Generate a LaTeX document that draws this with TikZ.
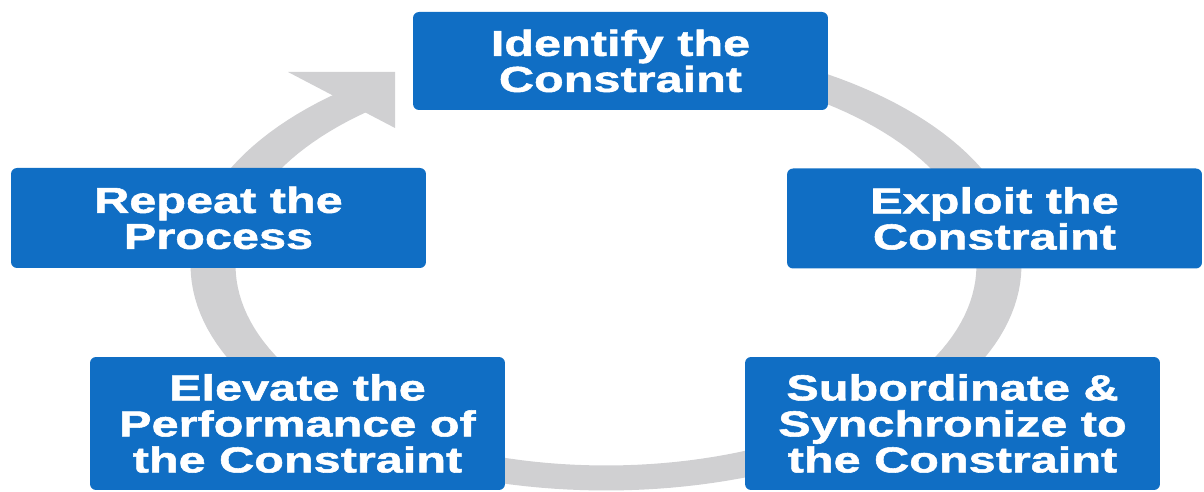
\documentclass[tikz,border=0pt]{standalone}
\usepackage{fontspec}
\newfontfamily\phasefont[FakeStretch=1.35,FakeBold=1.5]{Liberation Sans Bold}

\definecolor{phaseblue}{RGB}{16,110,196}
\definecolor{ringgray}{RGB}{208,208,210}

\tikzset{
  phase/.style={fill=phaseblue, rounded corners=0.12cm, minimum width=8.3cm,
    inner sep=0pt, text=white, align=center,
    font=\phasefont\fontsize{20.5pt}{20.5pt}\selectfont}
}

\begin{document}
\begin{tikzpicture}[x=0.02cm, y=0.02cm]
        \useasboundingbox (0,0) rectangle (1204,492);

        % Draw the ring
        \fill[ringgray, samples=160, variable=\t]
        plot[domain=90:-230] ({606+415.5*cos(\t)}, {227+225.5*sin(\t)})
        -- plot[domain=-230:90] ({606+370.5*cos(\t)}, {227+200.5*sin(\t)})
        -- cycle;

        % Draw the arrow head
        \coordinate (tip) at (395,420);
        \fill[ringgray] (288,420) -- (tip) -- (395,364) -- cycle;

        % Add the steps
        \node[phase, minimum height=1.96cm] (identify) at (620.5,431) {Identify the\\Constraint};
        \node[phase, minimum height=2cm] (exploit) at (994.5,273.5) {Exploit the\\Constraint};
        \node[phase, minimum height=2.66cm] (subordinate) at (952.5,68.5) {Subordinate \&\\Synchronize to\\the Constraint};
        \node[phase, minimum height=2.66cm] (elevate) at (297.5,68.5) {Elevate the\\Performance of\\the Constraint};
        \node[phase, minimum height=2cm] (repeat) at (218.5,274) {Repeat the\\Process};
      \end{tikzpicture}
\end{document}
